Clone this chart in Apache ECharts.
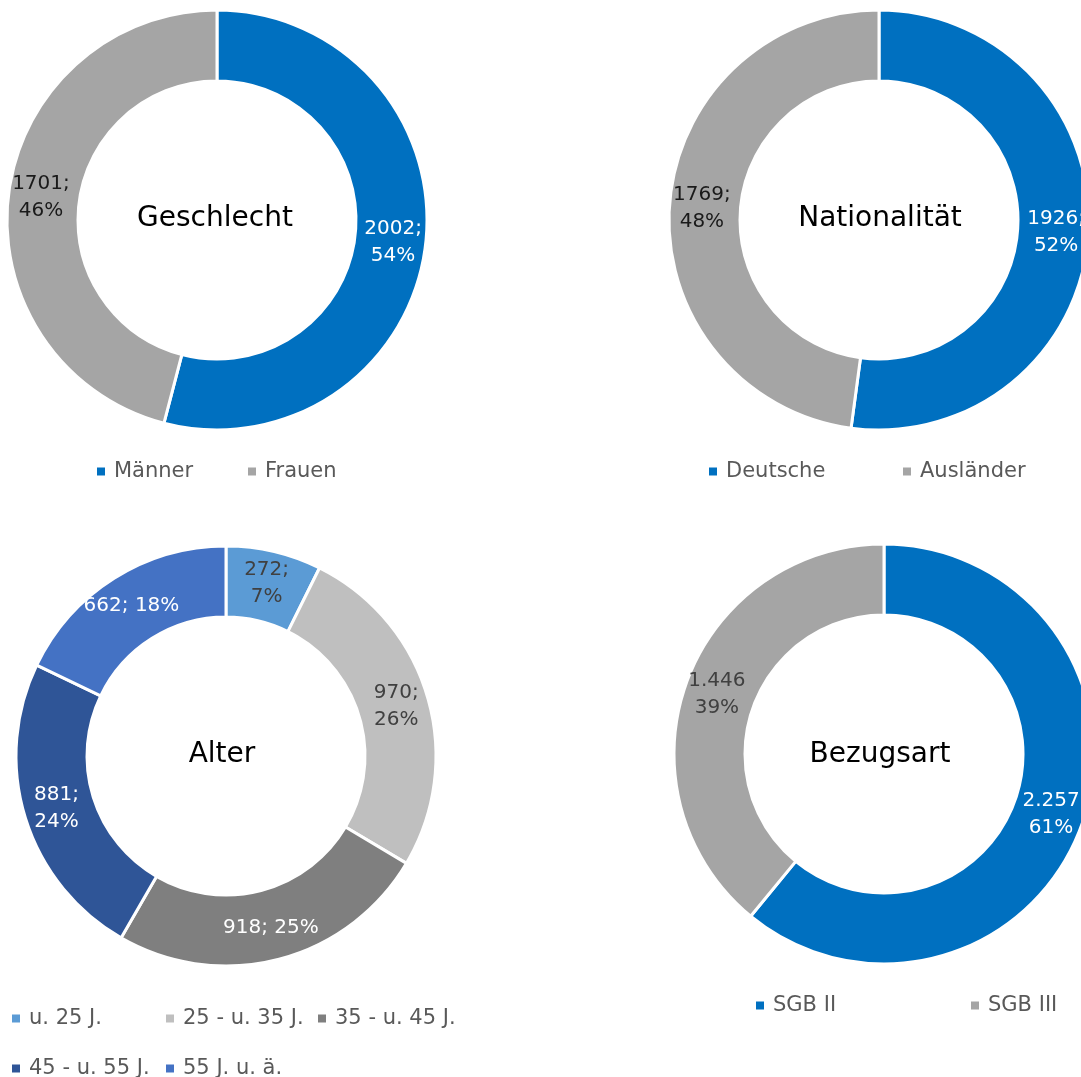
<!DOCTYPE html>
<html>
<head>
<meta charset="utf-8">
<script src="https://cdn.jsdelivr.net/npm/echarts@6/dist/echarts.min.js"></script>
<style>
  html, body { margin: 0; padding: 0; background: #fff; }
  #chart { width: 1081px; height: 1077px; }
</style>
</head>
<body>
<div id="chart"></div>
<script>
// Geschlecht
const genderCats = ['Männer', 'Frauen'];
const genderVals = [2002, 1701];
// Nationalität
const natCats = ['Deutsche', 'Ausländer'];
const natVals = [1926, 1769];
// Alter
const ageCats = ['u. 25 J.', '25 - u. 35 J.', '35 - u. 45 J.', '45 - u. 55 J.', '55 J. u. ä.'];
const ageVals = [272, 970, 918, 881, 662];
// Bezugsart
const benefitCats = ['SGB II', 'SGB III'];
const benefitVals = [2257, 1446];

const FONT = '"DejaVu Sans", sans-serif';
const BLUE = '#0070C0', GREY = '#A5A5A5';
const AGE_COLORS = ['#5B9BD5', '#BFBFBF', '#7F7F7F', '#2F5597', '#4472C4'];
const R_IN = 139, R_OUT = 210;

function deNum(v) {
  return String(v).replace(/\B(?=(\d{3})+(?!\d))/g, '.');
}

function donut(cats, vals, colors, labelColors, center, fmt) {
  return {
    type: 'pie',
    center: center,
    radius: [R_IN, R_OUT],
    startAngle: 90,
    clockwise: true,
    percentPrecision: 0,
    silent: true,
    avoidLabelOverlap: false,
    itemStyle: { borderColor: '#fff', borderWidth: 3 },
    label: {
      show: true,
      position: 'inside',
      fontFamily: FONT,
      fontSize: 20,
      lineHeight: 27,
      align: 'center'
    },
    labelLine: { show: false },
    data: cats.map((c, i) => ({
      name: c,
      value: vals[i],
      itemStyle: { color: colors[i] },
      label: { color: labelColors[i], formatter: fmt }
    }))
  };
}

const twoLine = p => p.value + ';\n' + p.percent + '%';
const oneLine = p => p.value + '; ' + p.percent + '%';
const benefitFmt = p => deNum(p.value) + '\n' + p.percent + '%';

const ageSeries = donut(ageCats, ageVals, AGE_COLORS,
  ['#404040', '#404040', '#fff', '#fff', '#fff'], [226, 756], twoLine);
// the two wide segments keep their label on one line
ageSeries.data[2].label.formatter = oneLine;
ageSeries.data[4].label.formatter = oneLine;

function legendItem(name, left, top) {
  return {
    data: [name],
    left: left,
    top: top,
    icon: 'rect',
    itemWidth: 10,
    itemHeight: 10,
    selectedMode: false,
    padding: 0,
    textStyle: { color: '#595959', fontSize: 21, fontFamily: FONT, padding: [0, 0, 0, 3] }
  };
}

function centerText(text, x, y) {
  return {
    type: 'text',
    x: x, y: y,
    style: {
      text: text,
      fill: '#000',
      font: '28px ' + FONT,
      textAlign: 'center',
      textVerticalAlign: 'middle'
    },
    silent: true
  };
}

const chart = echarts.init(document.getElementById('chart'), null, { renderer: 'canvas' });
chart.setOption({
  backgroundColor: '#fff',
  animation: false,
  legend: [
    legendItem('Männer', 95, 461),
    legendItem('Frauen', 246, 461),
    legendItem('Deutsche', 707, 461),
    legendItem('Ausländer', 901, 461),
    legendItem('u. 25 J.', 10, 1008),
    legendItem('25 - u. 35 J.', 164, 1008),
    legendItem('35 - u. 45 J.', 316, 1008),
    legendItem('45 - u. 55 J.', 10, 1058),
    legendItem('55 J. u. ä.', 164, 1058),
    legendItem('SGB II', 754, 995),
    legendItem('SGB III', 969, 995)
  ],
  graphic: [
    centerText('Geschlecht', 215, 219),
    centerText('Nationalität', 880, 219),
    centerText('Alter', 222, 755),
    centerText('Bezugsart', 880, 755)
  ],
  series: [
    donut(genderCats, genderVals, [BLUE, GREY], ['#fff', '#1a1a1a'], [217, 220], twoLine),
    donut(natCats, natVals, [BLUE, GREY], ['#fff', '#1a1a1a'], [879, 220], twoLine),
    ageSeries,
    donut(benefitCats, benefitVals, [BLUE, GREY], ['#fff', '#404040'], [884, 754], benefitFmt)
  ]
});
</script>
</body>
</html>
